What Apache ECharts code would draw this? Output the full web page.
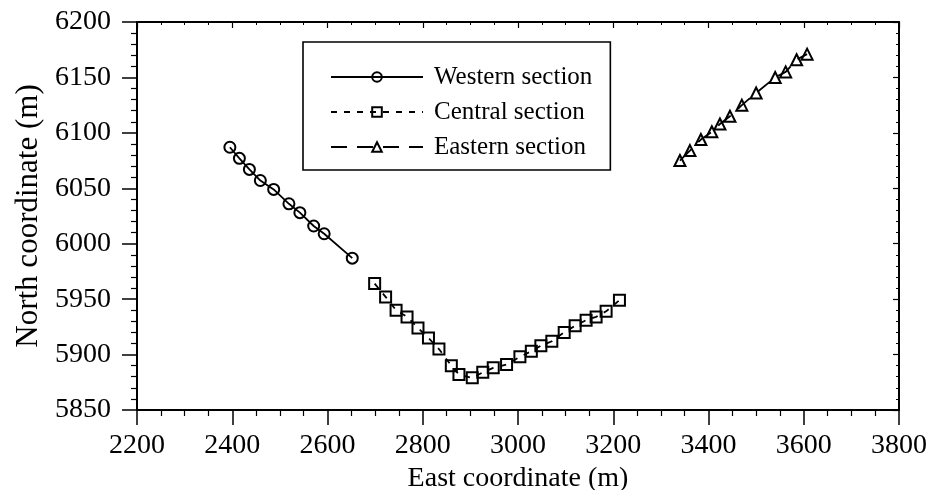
<!DOCTYPE html>
<html>
<head>
<meta charset="utf-8">
<script src="https://cdn.jsdelivr.net/npm/echarts@6/dist/echarts.min.js"></script>
<style>
  html, body { margin: 0; padding: 0; background: #fff; }
  #chart { width: 932px; height: 490px; }
</style>
</head>
<body>
<div id="chart"></div>
<script>
// Survey line coordinates (metres)
const westE = [2395, 2415, 2436, 2459, 2487, 2519, 2542, 2571, 2593, 2652];
const westN = [6087, 6077, 6067, 6057, 6049, 6036, 6028, 6016, 6009, 5987];

const centralE = [2699, 2722, 2744, 2767, 2790, 2812, 2834, 2860, 2876, 2904, 2926, 2948,
                  2976, 3004, 3028, 3048, 3071, 3097, 3120, 3143, 3164, 3185, 3213];
const centralN = [5964, 5952, 5940, 5934, 5924, 5915, 5905, 5890, 5882, 5879, 5884, 5888,
                  5891, 5898, 5903, 5908, 5912, 5920, 5926, 5931, 5934, 5939, 5949];

const eastE = [3340, 3361, 3384, 3407, 3424, 3445, 3470, 3500, 3540, 3562, 3585, 3607];
const eastN = [6075, 6084, 6094, 6101, 6108, 6115, 6125, 6136, 6150, 6155, 6166, 6171];

const seriesNames = ['Western section', 'Central section', 'Eastern section'];
const xTicks = { min: 2200, max: 3800, step: 200 };
const yTicks = { min: 5850, max: 6200, step: 50 };

const FONT = '"Liberation Serif", "Times New Roman", serif';

function pairs(xs, ys) {
  return xs.map((x, i) => [x, ys[i]]);
}

// plain integers, no thousands separator
const plain = (v) => String(v);

function frameAxis(base, extra) {
  return Object.assign({
    type: 'value',
    min: base.min,
    max: base.max,
    interval: base.step,
    splitLine: { show: false },
    axisLine: { show: true, onZero: false, lineStyle: { color: '#000', width: 2 } },
    axisTick: { show: true, inside: true, length: 6, lineStyle: { color: '#000', width: 1.2 } },
    minorTick: { show: true, splitNumber: 5, length: 3, lineStyle: { color: '#000', width: 1 } },
    axisLabel: { show: false }
  }, extra);
}

function mainAxis(base, extra) {
  return Object.assign({
    type: 'value',
    min: base.min,
    max: base.max,
    interval: base.step,
    nameLocation: 'middle',
    splitLine: { show: false },
    axisLine: { show: true, onZero: false, lineStyle: { color: '#000', width: 2 } },
    axisTick: { show: true, length: 15, lineStyle: { color: '#000', width: 1.5 } },
    minorTick: { show: true, length: 6, lineStyle: { color: '#000', width: 1.2 } }
  }, extra);
}

const symbolStyle = { color: 'rgba(0,0,0,0)', borderColor: '#000', borderWidth: 2 };

const chart = echarts.init(document.getElementById('chart'), null, { renderer: 'canvas' });

chart.setOption({
  animation: false,
  backgroundColor: '#fff',
  grid: { left: 137, right: 33, top: 22, bottom: 80, outerBoundsMode: 'none', containLabel: false },
  legend: {
    orient: 'vertical',
    left: 303,
    top: 42,
    padding: [22, 18, 10, 27],
    itemGap: 9,
    itemWidth: 92,
    itemHeight: 12,
    borderColor: '#000',
    borderWidth: 1.6,
    textStyle: { fontFamily: FONT, fontSize: 25, color: '#000', lineHeight: 26, padding: [0, 0, 0, 6] },
    data: seriesNames
  },
  xAxis: [
    mainAxis(xTicks, {
      name: 'East coordinate (m)',
      nameGap: 51,
      nameTextStyle: { fontFamily: FONT, fontSize: 28, color: '#000' },
      minorTick: { show: true, splitNumber: 4, length: 6, lineStyle: { color: '#000', width: 1.2 } },
      axisLabel: { fontFamily: FONT, fontSize: 28, color: '#000', margin: 22, formatter: plain }
    }),
    frameAxis(xTicks, {
      position: 'top',
      minorTick: { show: true, splitNumber: 4, length: 3, lineStyle: { color: '#000', width: 1 } }
    })
  ],
  yAxis: [
    mainAxis(yTicks, {
      name: 'North coordinate (m)',
      nameGap: 89,
      nameTextStyle: { fontFamily: FONT, fontSize: 31, color: '#000' },
      minorTick: { show: true, splitNumber: 5, length: 6, lineStyle: { color: '#000', width: 1.2 } },
      axisLabel: { fontFamily: FONT, fontSize: 28, color: '#000', margin: 26, formatter: plain }
    }),
    frameAxis(yTicks, { position: 'right' })
  ],
  series: [
    {
      name: seriesNames[0],
      type: 'line',
      data: pairs(westE, westN),
      symbol: 'circle',
      symbolSize: 11,
      itemStyle: symbolStyle,
      lineStyle: { color: '#000', width: 1.8, type: 'solid' }
    },
    {
      name: seriesNames[1],
      type: 'line',
      data: pairs(centralE, centralN),
      symbol: 'rect',
      symbolSize: 11,
      itemStyle: symbolStyle,
      lineStyle: { color: '#000', width: 1.8, type: [6, 7] }
    },
    {
      name: seriesNames[2],
      type: 'line',
      data: pairs(eastE, eastN),
      symbol: 'triangle',
      symbolSize: 11,
      itemStyle: symbolStyle,
      lineStyle: { color: '#000', width: 1.8, type: [16, 10] }
    }
  ]
});
</script>
</body>
</html>
